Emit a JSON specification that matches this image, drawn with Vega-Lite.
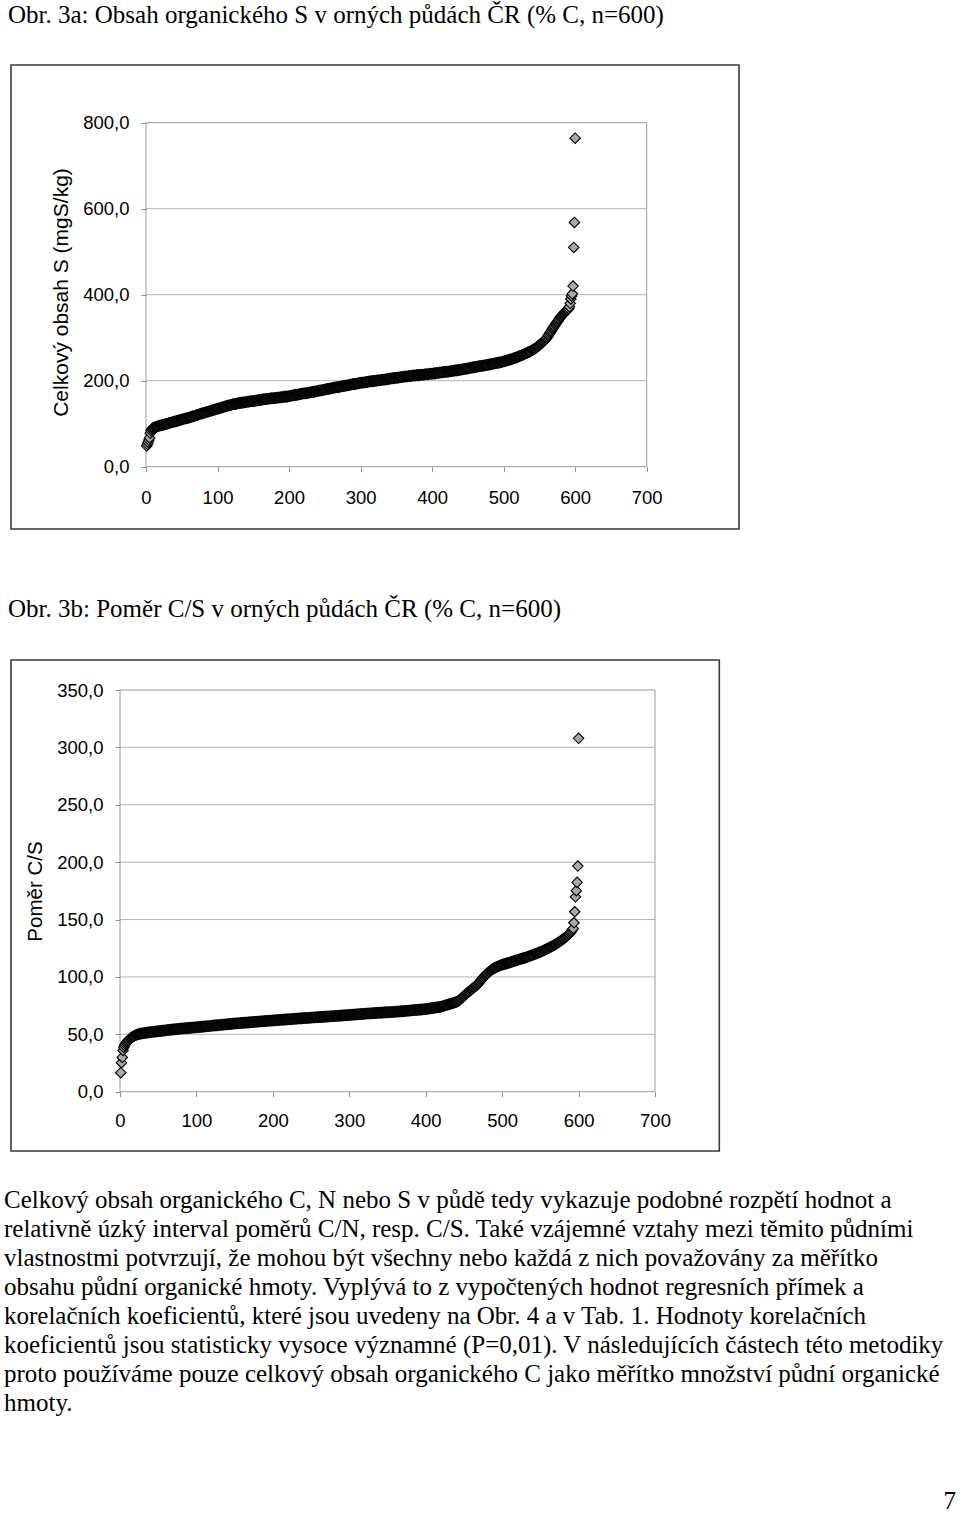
{
"$schema":"https://vega.github.io/schema/vega-lite/v6.json",
"width":960,"height":1513,"autosize":"none","padding":0,"background":"white",
"config":{"view":{"stroke":null}},
"datasets":{
"sulphur":[{"i":1,"v":48},{"i":2,"v":52},{"i":3,"v":57},{"i":4,"v":62},{"i":5,"v":67},{"i":6,"v":78},{"i":7,"v":84},{"i":8,"v":87},{"i":9,"v":89},{"i":10,"v":90},
{"i":11,"v":91},{"i":12,"v":91},{"i":13,"v":92},{"i":14,"v":92},{"i":15,"v":93},{"i":16,"v":94},{"i":17,"v":94},{"i":18,"v":95},{"i":19,"v":95},{"i":20,"v":96},
{"i":21,"v":96},{"i":22,"v":97},{"i":23,"v":97},{"i":24,"v":97},{"i":25,"v":98},{"i":26,"v":98},{"i":27,"v":99},{"i":28,"v":99},{"i":29,"v":100},{"i":30,"v":100},
{"i":31,"v":101},{"i":32,"v":101},{"i":33,"v":102},{"i":34,"v":102},{"i":35,"v":103},{"i":36,"v":103},{"i":37,"v":104},{"i":38,"v":104},{"i":39,"v":105},{"i":40,"v":105},
{"i":41,"v":105},{"i":42,"v":106},{"i":43,"v":106},{"i":44,"v":107},{"i":45,"v":107},{"i":46,"v":108},{"i":47,"v":108},{"i":48,"v":109},{"i":49,"v":109},{"i":50,"v":110},
{"i":51,"v":110},{"i":52,"v":111},{"i":53,"v":111},{"i":54,"v":112},{"i":55,"v":112},{"i":56,"v":112},{"i":57,"v":113},{"i":58,"v":113},{"i":59,"v":114},{"i":60,"v":114},
{"i":61,"v":115},{"i":62,"v":115},{"i":63,"v":116},{"i":64,"v":116},{"i":65,"v":117},{"i":66,"v":117},{"i":67,"v":118},{"i":68,"v":118},{"i":69,"v":119},{"i":70,"v":119},
{"i":71,"v":120},{"i":72,"v":120},{"i":73,"v":121},{"i":74,"v":122},{"i":75,"v":122},{"i":76,"v":123},{"i":77,"v":123},{"i":78,"v":124},{"i":79,"v":124},{"i":80,"v":125},
{"i":81,"v":125},{"i":82,"v":126},{"i":83,"v":126},{"i":84,"v":127},{"i":85,"v":127},{"i":86,"v":128},{"i":87,"v":128},{"i":88,"v":129},{"i":89,"v":129},{"i":90,"v":130},
{"i":91,"v":130},{"i":92,"v":131},{"i":93,"v":131},{"i":94,"v":132},{"i":95,"v":132},{"i":96,"v":133},{"i":97,"v":133},{"i":98,"v":134},{"i":99,"v":134},{"i":100,"v":135},
{"i":101,"v":135},{"i":102,"v":136},{"i":103,"v":136},{"i":104,"v":137},{"i":105,"v":137},{"i":106,"v":138},{"i":107,"v":138},{"i":108,"v":139},{"i":109,"v":139},{"i":110,"v":140},
{"i":111,"v":140},{"i":112,"v":141},{"i":113,"v":141},{"i":114,"v":142},{"i":115,"v":142},{"i":116,"v":143},{"i":117,"v":143},{"i":118,"v":143},{"i":119,"v":144},{"i":120,"v":144},
{"i":121,"v":145},{"i":122,"v":145},{"i":123,"v":145},{"i":124,"v":146},{"i":125,"v":146},{"i":126,"v":146},{"i":127,"v":147},{"i":128,"v":147},{"i":129,"v":148},{"i":130,"v":148},
{"i":131,"v":148},{"i":132,"v":148},{"i":133,"v":149},{"i":134,"v":149},{"i":135,"v":149},{"i":136,"v":149},{"i":137,"v":150},{"i":138,"v":150},{"i":139,"v":150},{"i":140,"v":150},
{"i":141,"v":151},{"i":142,"v":151},{"i":143,"v":151},{"i":144,"v":151},{"i":145,"v":152},{"i":146,"v":152},{"i":147,"v":152},{"i":148,"v":152},{"i":149,"v":153},{"i":150,"v":153},
{"i":151,"v":153},{"i":152,"v":153},{"i":153,"v":154},{"i":154,"v":154},{"i":155,"v":154},{"i":156,"v":154},{"i":157,"v":155},{"i":158,"v":155},{"i":159,"v":155},{"i":160,"v":155},
{"i":161,"v":156},{"i":162,"v":156},{"i":163,"v":156},{"i":164,"v":157},{"i":165,"v":157},{"i":166,"v":157},{"i":167,"v":157},{"i":168,"v":157},{"i":169,"v":158},{"i":170,"v":158},
{"i":171,"v":158},{"i":172,"v":158},{"i":173,"v":158},{"i":174,"v":159},{"i":175,"v":159},{"i":176,"v":159},{"i":177,"v":159},{"i":178,"v":159},{"i":179,"v":160},{"i":180,"v":160},
{"i":181,"v":160},{"i":182,"v":160},{"i":183,"v":160},{"i":184,"v":161},{"i":185,"v":161},{"i":186,"v":161},{"i":187,"v":161},{"i":188,"v":161},{"i":189,"v":162},{"i":190,"v":162},
{"i":191,"v":162},{"i":192,"v":162},{"i":193,"v":162},{"i":194,"v":163},{"i":195,"v":163},{"i":196,"v":163},{"i":197,"v":163},{"i":198,"v":163},{"i":199,"v":164},{"i":200,"v":164},
{"i":201,"v":164},{"i":202,"v":165},{"i":203,"v":165},{"i":204,"v":165},{"i":205,"v":166},{"i":206,"v":166},{"i":207,"v":166},{"i":208,"v":167},{"i":209,"v":167},{"i":210,"v":167},
{"i":211,"v":167},{"i":212,"v":168},{"i":213,"v":168},{"i":214,"v":168},{"i":215,"v":169},{"i":216,"v":169},{"i":217,"v":169},{"i":218,"v":170},{"i":219,"v":170},{"i":220,"v":170},
{"i":221,"v":170},{"i":222,"v":171},{"i":223,"v":171},{"i":224,"v":171},{"i":225,"v":171},{"i":226,"v":172},{"i":227,"v":172},{"i":228,"v":172},{"i":229,"v":173},{"i":230,"v":173},
{"i":231,"v":173},{"i":232,"v":173},{"i":233,"v":174},{"i":234,"v":174},{"i":235,"v":174},{"i":236,"v":175},{"i":237,"v":175},{"i":238,"v":175},{"i":239,"v":176},{"i":240,"v":176},
{"i":241,"v":176},{"i":242,"v":177},{"i":243,"v":177},{"i":244,"v":177},{"i":245,"v":178},{"i":246,"v":178},{"i":247,"v":178},{"i":248,"v":179},{"i":249,"v":179},{"i":250,"v":179},
{"i":251,"v":180},{"i":252,"v":180},{"i":253,"v":180},{"i":254,"v":181},{"i":255,"v":181},{"i":256,"v":181},{"i":257,"v":182},{"i":258,"v":182},{"i":259,"v":182},{"i":260,"v":183},
{"i":261,"v":183},{"i":262,"v":183},{"i":263,"v":184},{"i":264,"v":184},{"i":265,"v":184},{"i":266,"v":185},{"i":267,"v":185},{"i":268,"v":185},{"i":269,"v":185},{"i":270,"v":186},
{"i":271,"v":186},{"i":272,"v":186},{"i":273,"v":187},{"i":274,"v":187},{"i":275,"v":187},{"i":276,"v":188},{"i":277,"v":188},{"i":278,"v":188},{"i":279,"v":189},{"i":280,"v":189},
{"i":281,"v":189},{"i":282,"v":189},{"i":283,"v":190},{"i":284,"v":190},{"i":285,"v":190},{"i":286,"v":191},{"i":287,"v":191},{"i":288,"v":191},{"i":289,"v":192},{"i":290,"v":192},
{"i":291,"v":192},{"i":292,"v":192},{"i":293,"v":193},{"i":294,"v":193},{"i":295,"v":193},{"i":296,"v":194},{"i":297,"v":194},{"i":298,"v":194},{"i":299,"v":195},{"i":300,"v":195},
{"i":301,"v":195},{"i":302,"v":195},{"i":303,"v":196},{"i":304,"v":196},{"i":305,"v":196},{"i":306,"v":196},{"i":307,"v":197},{"i":308,"v":197},{"i":309,"v":197},{"i":310,"v":197},
{"i":311,"v":198},{"i":312,"v":198},{"i":313,"v":198},{"i":314,"v":198},{"i":315,"v":199},{"i":316,"v":199},{"i":317,"v":199},{"i":318,"v":199},{"i":319,"v":199},{"i":320,"v":200},
{"i":321,"v":200},{"i":322,"v":200},{"i":323,"v":200},{"i":324,"v":201},{"i":325,"v":201},{"i":326,"v":201},{"i":327,"v":201},{"i":328,"v":201},{"i":329,"v":202},{"i":330,"v":202},
{"i":331,"v":202},{"i":332,"v":202},{"i":333,"v":203},{"i":334,"v":203},{"i":335,"v":203},{"i":336,"v":203},{"i":337,"v":204},{"i":338,"v":204},{"i":339,"v":204},{"i":340,"v":204},
{"i":341,"v":205},{"i":342,"v":205},{"i":343,"v":205},{"i":344,"v":205},{"i":345,"v":206},{"i":346,"v":206},{"i":347,"v":206},{"i":348,"v":206},{"i":349,"v":207},{"i":350,"v":207},
{"i":351,"v":207},{"i":352,"v":207},{"i":353,"v":207},{"i":354,"v":208},{"i":355,"v":208},{"i":356,"v":208},{"i":357,"v":208},{"i":358,"v":209},{"i":359,"v":209},{"i":360,"v":209},
{"i":361,"v":209},{"i":362,"v":210},{"i":363,"v":210},{"i":364,"v":210},{"i":365,"v":210},{"i":366,"v":210},{"i":367,"v":211},{"i":368,"v":211},{"i":369,"v":211},{"i":370,"v":211},
{"i":371,"v":211},{"i":372,"v":212},{"i":373,"v":212},{"i":374,"v":212},{"i":375,"v":212},{"i":376,"v":212},{"i":377,"v":212},{"i":378,"v":213},{"i":379,"v":213},{"i":380,"v":213},
{"i":381,"v":213},{"i":382,"v":213},{"i":383,"v":213},{"i":384,"v":214},{"i":385,"v":214},{"i":386,"v":214},{"i":387,"v":214},{"i":388,"v":214},{"i":389,"v":214},{"i":390,"v":215},
{"i":391,"v":215},{"i":392,"v":215},{"i":393,"v":215},{"i":394,"v":215},{"i":395,"v":215},{"i":396,"v":216},{"i":397,"v":216},{"i":398,"v":216},{"i":399,"v":216},{"i":400,"v":216},
{"i":401,"v":216},{"i":402,"v":217},{"i":403,"v":217},{"i":404,"v":217},{"i":405,"v":217},{"i":406,"v":218},{"i":407,"v":218},{"i":408,"v":218},{"i":409,"v":218},{"i":410,"v":219},
{"i":411,"v":219},{"i":412,"v":219},{"i":413,"v":219},{"i":414,"v":219},{"i":415,"v":220},{"i":416,"v":220},{"i":417,"v":220},{"i":418,"v":220},{"i":419,"v":221},{"i":420,"v":221},
{"i":421,"v":221},{"i":422,"v":221},{"i":423,"v":221},{"i":424,"v":222},{"i":425,"v":222},{"i":426,"v":222},{"i":427,"v":222},{"i":428,"v":223},{"i":429,"v":223},{"i":430,"v":223},
{"i":431,"v":223},{"i":432,"v":224},{"i":433,"v":224},{"i":434,"v":224},{"i":435,"v":224},{"i":436,"v":225},{"i":437,"v":225},{"i":438,"v":225},{"i":439,"v":225},{"i":440,"v":226},
{"i":441,"v":226},{"i":442,"v":226},{"i":443,"v":226},{"i":444,"v":227},{"i":445,"v":227},{"i":446,"v":227},{"i":447,"v":228},{"i":448,"v":228},{"i":449,"v":228},{"i":450,"v":229},
{"i":451,"v":229},{"i":452,"v":229},{"i":453,"v":230},{"i":454,"v":230},{"i":455,"v":230},{"i":456,"v":231},{"i":457,"v":231},{"i":458,"v":231},{"i":459,"v":232},{"i":460,"v":232},
{"i":461,"v":232},{"i":462,"v":232},{"i":463,"v":233},{"i":464,"v":233},{"i":465,"v":233},{"i":466,"v":234},{"i":467,"v":234},{"i":468,"v":234},{"i":469,"v":234},{"i":470,"v":235},
{"i":471,"v":235},{"i":472,"v":235},{"i":473,"v":236},{"i":474,"v":236},{"i":475,"v":236},{"i":476,"v":236},{"i":477,"v":237},{"i":478,"v":237},{"i":479,"v":237},{"i":480,"v":238},
{"i":481,"v":238},{"i":482,"v":238},{"i":483,"v":239},{"i":484,"v":239},{"i":485,"v":239},{"i":486,"v":240},{"i":487,"v":240},{"i":488,"v":240},{"i":489,"v":241},{"i":490,"v":241},
{"i":491,"v":241},{"i":492,"v":242},{"i":493,"v":242},{"i":494,"v":242},{"i":495,"v":243},{"i":496,"v":243},{"i":497,"v":243},{"i":498,"v":244},{"i":499,"v":244},{"i":500,"v":245},
{"i":501,"v":245},{"i":502,"v":246},{"i":503,"v":246},{"i":504,"v":247},{"i":505,"v":247},{"i":506,"v":248},{"i":507,"v":248},{"i":508,"v":249},{"i":509,"v":249},{"i":510,"v":250},
{"i":511,"v":250},{"i":512,"v":251},{"i":513,"v":251},{"i":514,"v":252},{"i":515,"v":253},{"i":516,"v":253},{"i":517,"v":254},{"i":518,"v":254},{"i":519,"v":255},{"i":520,"v":256},
{"i":521,"v":256},{"i":522,"v":257},{"i":523,"v":258},{"i":524,"v":258},{"i":525,"v":259},{"i":526,"v":260},{"i":527,"v":260},{"i":528,"v":261},{"i":529,"v":262},{"i":530,"v":263},
{"i":531,"v":264},{"i":532,"v":264},{"i":533,"v":265},{"i":534,"v":266},{"i":535,"v":267},{"i":536,"v":267},{"i":537,"v":268},{"i":538,"v":269},{"i":539,"v":270},{"i":540,"v":271},
{"i":541,"v":272},{"i":542,"v":273},{"i":543,"v":274},{"i":544,"v":275},{"i":545,"v":276},{"i":546,"v":277},{"i":547,"v":279},{"i":548,"v":280},{"i":549,"v":281},{"i":550,"v":283},
{"i":551,"v":284},{"i":552,"v":286},{"i":553,"v":287},{"i":554,"v":289},{"i":555,"v":290},{"i":556,"v":292},{"i":557,"v":293},{"i":558,"v":295},{"i":559,"v":297},{"i":560,"v":299},
{"i":561,"v":301},{"i":562,"v":304},{"i":563,"v":306},{"i":564,"v":309},{"i":565,"v":312},{"i":566,"v":314},{"i":567,"v":317},{"i":568,"v":320},{"i":569,"v":322},{"i":570,"v":325},
{"i":571,"v":327},{"i":572,"v":330},{"i":573,"v":332},{"i":574,"v":335},{"i":575,"v":337},{"i":576,"v":339},{"i":577,"v":342},{"i":578,"v":344},{"i":579,"v":347},{"i":580,"v":349},
{"i":581,"v":351},{"i":582,"v":353},{"i":583,"v":355},{"i":584,"v":356},{"i":585,"v":358},{"i":586,"v":360},{"i":587,"v":361},{"i":588,"v":363},{"i":589,"v":364},{"i":590,"v":366},
{"i":591,"v":368},{"i":592,"v":372},{"i":593,"v":380},{"i":594,"v":390},{"i":595,"v":397},{"i":596,"v":402},{"i":597,"v":420},{"i":598,"v":510},{"i":599,"v":568},{"i":600,"v":764}],
"ratio":[{"i":1,"v":16.6},{"i":2,"v":25.3},{"i":3,"v":29.9},{"i":4,"v":36},{"i":5,"v":38.6},{"i":6,"v":40.3},{"i":7,"v":41.5},{"i":8,"v":42.5},{"i":9,"v":43.4},{"i":10,"v":44.2},
{"i":11,"v":44.9},{"i":12,"v":45.5},{"i":13,"v":46.1},{"i":14,"v":46.6},{"i":15,"v":47.1},{"i":16,"v":47.6},{"i":17,"v":48},{"i":18,"v":48.4},{"i":19,"v":48.8},{"i":20,"v":49.1},
{"i":21,"v":49.4},{"i":22,"v":49.7},{"i":23,"v":49.9},{"i":24,"v":50.1},{"i":25,"v":50.3},{"i":26,"v":50.5},{"i":27,"v":50.6},{"i":28,"v":50.7},{"i":29,"v":50.8},{"i":30,"v":50.9},
{"i":31,"v":51},{"i":32,"v":51.1},{"i":33,"v":51.2},{"i":34,"v":51.3},{"i":35,"v":51.4},{"i":36,"v":51.5},{"i":37,"v":51.6},{"i":38,"v":51.7},{"i":39,"v":51.8},{"i":40,"v":52},
{"i":41,"v":52},{"i":42,"v":52.1},{"i":43,"v":52.2},{"i":44,"v":52.2},{"i":45,"v":52.3},{"i":46,"v":52.4},{"i":47,"v":52.5},{"i":48,"v":52.5},{"i":49,"v":52.6},{"i":50,"v":52.7},
{"i":51,"v":52.8},{"i":52,"v":52.8},{"i":53,"v":52.9},{"i":54,"v":53},{"i":55,"v":53.1},{"i":56,"v":53.1},{"i":57,"v":53.2},{"i":58,"v":53.3},{"i":59,"v":53.4},{"i":60,"v":53.5},
{"i":61,"v":53.6},{"i":62,"v":53.7},{"i":63,"v":53.7},{"i":64,"v":53.8},{"i":65,"v":53.9},{"i":66,"v":54},{"i":67,"v":54},{"i":68,"v":54.1},{"i":69,"v":54.2},{"i":70,"v":54.3},
{"i":71,"v":54.3},{"i":72,"v":54.4},{"i":73,"v":54.5},{"i":74,"v":54.5},{"i":75,"v":54.6},{"i":76,"v":54.7},{"i":77,"v":54.8},{"i":78,"v":54.8},{"i":79,"v":54.9},{"i":80,"v":55},
{"i":81,"v":55},{"i":82,"v":55.1},{"i":83,"v":55.1},{"i":84,"v":55.2},{"i":85,"v":55.3},{"i":86,"v":55.3},{"i":87,"v":55.4},{"i":88,"v":55.4},{"i":89,"v":55.5},{"i":90,"v":55.6},
{"i":91,"v":55.6},{"i":92,"v":55.7},{"i":93,"v":55.7},{"i":94,"v":55.8},{"i":95,"v":55.9},{"i":96,"v":55.9},{"i":97,"v":56},{"i":98,"v":56},{"i":99,"v":56.1},{"i":100,"v":56.2},
{"i":101,"v":56.2},{"i":102,"v":56.3},{"i":103,"v":56.3},{"i":104,"v":56.4},{"i":105,"v":56.5},{"i":106,"v":56.5},{"i":107,"v":56.6},{"i":108,"v":56.7},{"i":109,"v":56.7},{"i":110,"v":56.8},
{"i":111,"v":56.8},{"i":112,"v":56.9},{"i":113,"v":57},{"i":114,"v":57},{"i":115,"v":57.1},{"i":116,"v":57.2},{"i":117,"v":57.2},{"i":118,"v":57.3},{"i":119,"v":57.4},{"i":120,"v":57.4},
{"i":121,"v":57.5},{"i":122,"v":57.6},{"i":123,"v":57.6},{"i":124,"v":57.7},{"i":125,"v":57.8},{"i":126,"v":57.8},{"i":127,"v":57.9},{"i":128,"v":57.9},{"i":129,"v":58},{"i":130,"v":58.1},
{"i":131,"v":58.1},{"i":132,"v":58.2},{"i":133,"v":58.3},{"i":134,"v":58.3},{"i":135,"v":58.4},{"i":136,"v":58.5},{"i":137,"v":58.5},{"i":138,"v":58.6},{"i":139,"v":58.7},{"i":140,"v":58.7},
{"i":141,"v":58.8},{"i":142,"v":58.9},{"i":143,"v":58.9},{"i":144,"v":59},{"i":145,"v":59.1},{"i":146,"v":59.1},{"i":147,"v":59.2},{"i":148,"v":59.3},{"i":149,"v":59.4},{"i":150,"v":59.4},
{"i":151,"v":59.5},{"i":152,"v":59.5},{"i":153,"v":59.6},{"i":154,"v":59.6},{"i":155,"v":59.7},{"i":156,"v":59.7},{"i":157,"v":59.8},{"i":158,"v":59.8},{"i":159,"v":59.9},{"i":160,"v":60},
{"i":161,"v":60},{"i":162,"v":60.1},{"i":163,"v":60.1},{"i":164,"v":60.2},{"i":165,"v":60.2},{"i":166,"v":60.3},{"i":167,"v":60.3},{"i":168,"v":60.4},{"i":169,"v":60.4},{"i":170,"v":60.5},
{"i":171,"v":60.5},{"i":172,"v":60.6},{"i":173,"v":60.7},{"i":174,"v":60.7},{"i":175,"v":60.8},{"i":176,"v":60.8},{"i":177,"v":60.9},{"i":178,"v":60.9},{"i":179,"v":61},{"i":180,"v":61},
{"i":181,"v":61.1},{"i":182,"v":61.1},{"i":183,"v":61.2},{"i":184,"v":61.2},{"i":185,"v":61.3},{"i":186,"v":61.3},{"i":187,"v":61.4},{"i":188,"v":61.4},{"i":189,"v":61.5},{"i":190,"v":61.6},
{"i":191,"v":61.6},{"i":192,"v":61.7},{"i":193,"v":61.7},{"i":194,"v":61.8},{"i":195,"v":61.8},{"i":196,"v":61.9},{"i":197,"v":61.9},{"i":198,"v":62},{"i":199,"v":62},{"i":200,"v":62.1},
{"i":201,"v":62.1},{"i":202,"v":62.2},{"i":203,"v":62.2},{"i":204,"v":62.3},{"i":205,"v":62.3},{"i":206,"v":62.4},{"i":207,"v":62.4},{"i":208,"v":62.5},{"i":209,"v":62.5},{"i":210,"v":62.6},
{"i":211,"v":62.6},{"i":212,"v":62.7},{"i":213,"v":62.7},{"i":214,"v":62.8},{"i":215,"v":62.8},{"i":216,"v":62.9},{"i":217,"v":62.9},{"i":218,"v":63},{"i":219,"v":63},{"i":220,"v":63.1},
{"i":221,"v":63.1},{"i":222,"v":63.2},{"i":223,"v":63.2},{"i":224,"v":63.3},{"i":225,"v":63.3},{"i":226,"v":63.4},{"i":227,"v":63.4},{"i":228,"v":63.5},{"i":229,"v":63.5},{"i":230,"v":63.6},
{"i":231,"v":63.6},{"i":232,"v":63.7},{"i":233,"v":63.7},{"i":234,"v":63.8},{"i":235,"v":63.8},{"i":236,"v":63.9},{"i":237,"v":63.9},{"i":238,"v":64},{"i":239,"v":64},{"i":240,"v":64.1},
{"i":241,"v":64.1},{"i":242,"v":64.2},{"i":243,"v":64.2},{"i":244,"v":64.3},{"i":245,"v":64.3},{"i":246,"v":64.3},{"i":247,"v":64.4},{"i":248,"v":64.4},{"i":249,"v":64.5},{"i":250,"v":64.5},
{"i":251,"v":64.6},{"i":252,"v":64.6},{"i":253,"v":64.7},{"i":254,"v":64.7},{"i":255,"v":64.8},{"i":256,"v":64.8},{"i":257,"v":64.8},{"i":258,"v":64.9},{"i":259,"v":64.9},{"i":260,"v":65},
{"i":261,"v":65},{"i":262,"v":65.1},{"i":263,"v":65.1},{"i":264,"v":65.2},{"i":265,"v":65.2},{"i":266,"v":65.3},{"i":267,"v":65.3},{"i":268,"v":65.3},{"i":269,"v":65.4},{"i":270,"v":65.4},
{"i":271,"v":65.5},{"i":272,"v":65.5},{"i":273,"v":65.6},{"i":274,"v":65.6},{"i":275,"v":65.7},{"i":276,"v":65.7},{"i":277,"v":65.7},{"i":278,"v":65.8},{"i":279,"v":65.8},{"i":280,"v":65.9},
{"i":281,"v":65.9},{"i":282,"v":66},{"i":283,"v":66},{"i":284,"v":66.1},{"i":285,"v":66.1},{"i":286,"v":66.2},{"i":287,"v":66.2},{"i":288,"v":66.3},{"i":289,"v":66.3},{"i":290,"v":66.4},
{"i":291,"v":66.4},{"i":292,"v":66.5},{"i":293,"v":66.5},{"i":294,"v":66.6},{"i":295,"v":66.6},{"i":296,"v":66.7},{"i":297,"v":66.7},{"i":298,"v":66.8},{"i":299,"v":66.8},{"i":300,"v":66.9},
{"i":301,"v":66.9},{"i":302,"v":67},{"i":303,"v":67},{"i":304,"v":67.1},{"i":305,"v":67.1},{"i":306,"v":67.2},{"i":307,"v":67.2},{"i":308,"v":67.3},{"i":309,"v":67.3},{"i":310,"v":67.4},
{"i":311,"v":67.4},{"i":312,"v":67.5},{"i":313,"v":67.5},{"i":314,"v":67.6},{"i":315,"v":67.6},{"i":316,"v":67.7},{"i":317,"v":67.7},{"i":318,"v":67.8},{"i":319,"v":67.8},{"i":320,"v":67.9},
{"i":321,"v":68},{"i":322,"v":68},{"i":323,"v":68.1},{"i":324,"v":68.1},{"i":325,"v":68.2},{"i":326,"v":68.2},{"i":327,"v":68.2},{"i":328,"v":68.3},{"i":329,"v":68.3},{"i":330,"v":68.4},
{"i":331,"v":68.4},{"i":332,"v":68.5},{"i":333,"v":68.5},{"i":334,"v":68.5},{"i":335,"v":68.6},{"i":336,"v":68.6},{"i":337,"v":68.7},{"i":338,"v":68.7},{"i":339,"v":68.8},{"i":340,"v":68.8},
{"i":341,"v":68.8},{"i":342,"v":68.9},{"i":343,"v":68.9},{"i":344,"v":69},{"i":345,"v":69},{"i":346,"v":69.1},{"i":347,"v":69.1},{"i":348,"v":69.1},{"i":349,"v":69.2},{"i":350,"v":69.2},
{"i":351,"v":69.3},{"i":352,"v":69.3},{"i":353,"v":69.3},{"i":354,"v":69.4},{"i":355,"v":69.4},{"i":356,"v":69.5},{"i":357,"v":69.5},{"i":358,"v":69.5},{"i":359,"v":69.6},{"i":360,"v":69.6},
{"i":361,"v":69.7},{"i":362,"v":69.7},{"i":363,"v":69.8},{"i":364,"v":69.8},{"i":365,"v":69.9},{"i":366,"v":69.9},{"i":367,"v":70},{"i":368,"v":70.1},{"i":369,"v":70.1},{"i":370,"v":70.2},
{"i":371,"v":70.2},{"i":372,"v":70.3},{"i":373,"v":70.3},{"i":374,"v":70.4},{"i":375,"v":70.5},{"i":376,"v":70.5},{"i":377,"v":70.6},{"i":378,"v":70.6},{"i":379,"v":70.7},{"i":380,"v":70.8},
{"i":381,"v":70.8},{"i":382,"v":70.9},{"i":383,"v":70.9},{"i":384,"v":71},{"i":385,"v":71.1},{"i":386,"v":71.1},{"i":387,"v":71.2},{"i":388,"v":71.2},{"i":389,"v":71.3},{"i":390,"v":71.4},
{"i":391,"v":71.4},{"i":392,"v":71.5},{"i":393,"v":71.5},{"i":394,"v":71.6},{"i":395,"v":71.7},{"i":396,"v":71.7},{"i":397,"v":71.8},{"i":398,"v":71.8},{"i":399,"v":71.9},{"i":400,"v":72},
{"i":401,"v":72.1},{"i":402,"v":72.2},{"i":403,"v":72.3},{"i":404,"v":72.4},{"i":405,"v":72.5},{"i":406,"v":72.6},{"i":407,"v":72.7},{"i":408,"v":72.8},{"i":409,"v":72.9},{"i":410,"v":73},
{"i":411,"v":73.1},{"i":412,"v":73.2},{"i":413,"v":73.3},{"i":414,"v":73.4},{"i":415,"v":73.5},{"i":416,"v":73.6},{"i":417,"v":73.7},{"i":418,"v":73.8},{"i":419,"v":73.9},{"i":420,"v":74.1},
{"i":421,"v":74.3},{"i":422,"v":74.5},{"i":423,"v":74.7},{"i":424,"v":74.9},{"i":425,"v":75.1},{"i":426,"v":75.3},{"i":427,"v":75.5},{"i":428,"v":75.7},{"i":429,"v":75.9},{"i":430,"v":76.1},
{"i":431,"v":76.3},{"i":432,"v":76.5},{"i":433,"v":76.7},{"i":434,"v":76.9},{"i":435,"v":77.1},{"i":436,"v":77.3},{"i":437,"v":77.5},{"i":438,"v":77.7},{"i":439,"v":77.9},{"i":440,"v":78.1},
{"i":441,"v":78.4},{"i":442,"v":78.8},{"i":443,"v":79.3},{"i":444,"v":79.8},{"i":445,"v":80.4},{"i":446,"v":81},{"i":447,"v":81.6},{"i":448,"v":82.2},{"i":449,"v":82.8},{"i":450,"v":83.4},
{"i":451,"v":84},{"i":452,"v":84.6},{"i":453,"v":85.2},{"i":454,"v":85.8},{"i":455,"v":86.4},{"i":456,"v":86.9},{"i":457,"v":87.5},{"i":458,"v":88},{"i":459,"v":88.6},{"i":460,"v":89.1},
{"i":461,"v":89.7},{"i":462,"v":90.2},{"i":463,"v":90.8},{"i":464,"v":91.3},{"i":465,"v":91.9},{"i":466,"v":92.4},{"i":467,"v":93},{"i":468,"v":93.7},{"i":469,"v":94.4},{"i":470,"v":95.2},
{"i":471,"v":96},{"i":472,"v":96.8},{"i":473,"v":97.6},{"i":474,"v":98.5},{"i":475,"v":99.3},{"i":476,"v":100.1},{"i":477,"v":100.8},{"i":478,"v":101.5},{"i":479,"v":102.2},{"i":480,"v":102.8},
{"i":481,"v":103.4},{"i":482,"v":104},{"i":483,"v":104.6},{"i":484,"v":105.1},{"i":485,"v":105.7},{"i":486,"v":106.1},{"i":487,"v":106.6},{"i":488,"v":107},{"i":489,"v":107.4},{"i":490,"v":107.8},
{"i":491,"v":108.1},{"i":492,"v":108.4},{"i":493,"v":108.7},{"i":494,"v":109},{"i":495,"v":109.3},{"i":496,"v":109.6},{"i":497,"v":109.9},{"i":498,"v":110.2},{"i":499,"v":110.4},{"i":500,"v":110.6},
{"i":501,"v":110.8},{"i":502,"v":111},{"i":503,"v":111.2},{"i":504,"v":111.4},{"i":505,"v":111.6},{"i":506,"v":111.8},{"i":507,"v":112},{"i":508,"v":112.2},{"i":509,"v":112.4},{"i":510,"v":112.6},
{"i":511,"v":112.8},{"i":512,"v":113.1},{"i":513,"v":113.3},{"i":514,"v":113.5},{"i":515,"v":113.8},{"i":516,"v":114},{"i":517,"v":114.2},{"i":518,"v":114.4},{"i":519,"v":114.6},{"i":520,"v":114.8},
{"i":521,"v":115},{"i":522,"v":115.2},{"i":523,"v":115.4},{"i":524,"v":115.6},{"i":525,"v":115.8},{"i":526,"v":116},{"i":527,"v":116.2},{"i":528,"v":116.4},{"i":529,"v":116.6},{"i":530,"v":116.8},
{"i":531,"v":117},{"i":532,"v":117.2},{"i":533,"v":117.5},{"i":534,"v":117.7},{"i":535,"v":118},{"i":536,"v":118.2},{"i":537,"v":118.5},{"i":538,"v":118.7},{"i":539,"v":119},{"i":540,"v":119.2},
{"i":541,"v":119.5},{"i":542,"v":119.7},{"i":543,"v":120},{"i":544,"v":120.2},{"i":545,"v":120.5},{"i":546,"v":120.7},{"i":547,"v":121},{"i":548,"v":121.2},{"i":549,"v":121.5},{"i":550,"v":121.7},
{"i":551,"v":122},{"i":552,"v":122.3},{"i":553,"v":122.6},{"i":554,"v":123},{"i":555,"v":123.3},{"i":556,"v":123.6},{"i":557,"v":124},{"i":558,"v":124.3},{"i":559,"v":124.6},{"i":560,"v":125},
{"i":561,"v":125.3},{"i":562,"v":125.6},{"i":563,"v":126},{"i":564,"v":126.3},{"i":565,"v":126.7},{"i":566,"v":127},{"i":567,"v":127.4},{"i":568,"v":127.7},{"i":569,"v":128.1},{"i":570,"v":128.5},
{"i":571,"v":128.9},{"i":572,"v":129.4},{"i":573,"v":129.8},{"i":574,"v":130.3},{"i":575,"v":130.7},{"i":576,"v":131.2},{"i":577,"v":131.7},{"i":578,"v":132.1},{"i":579,"v":132.6},{"i":580,"v":133},
{"i":581,"v":133.5},{"i":582,"v":134.1},{"i":583,"v":134.7},{"i":584,"v":135.3},{"i":585,"v":135.9},{"i":586,"v":136.5},{"i":587,"v":137.1},{"i":588,"v":137.6},{"i":589,"v":138.3},{"i":590,"v":139.2},
{"i":591,"v":140.2},{"i":592,"v":141.3},{"i":593,"v":142.3},{"i":594,"v":147.2},{"i":595,"v":156.8},{"i":596,"v":169.8},{"i":597,"v":175.1},{"i":598,"v":182.4},{"i":599,"v":196.6},{"i":600,"v":307.9}],
"gridA":[{"g":200},{"g":400},{"g":600}],
"gridB":[{"g":50},{"g":100},{"g":150},{"g":200},{"g":250},{"g":300}],
"paragraph":[
{"line":1,"text":"Celkový obsah organického C, N nebo S v půdě tedy vykazuje podobné rozpětí hodnot a"},
{"line":2,"text":"relativně úzký interval poměrů C/N, resp. C/S. Také vzájemné vztahy mezi těmito půdními"},
{"line":3,"text":"vlastnostmi potvrzují, že mohou být všechny nebo každá z nich považovány za měřítko"},
{"line":4,"text":"obsahu půdní organické hmoty. Vyplývá to z vypočtených hodnot regresních přímek a"},
{"line":5,"text":"korelačních koeficientů, které jsou uvedeny na Obr. 4 a v Tab. 1. Hodnoty korelačních"},
{"line":6,"text":"koeficientů jsou statisticky vysoce významné (P=0,01). V následujících částech této metodiky"},
{"line":7,"text":"proto používáme pouze celkový obsah organického C jako měřítko množství půdní organické"},
{"line":8,"text":"hmoty."}]
},
"resolve":{"scale":{"x":"independent","y":"independent"}},
"layer":[
{"layer":[
{"data":{"values":[{}]},"mark":{"type":"rect","fill":"white","fillOpacity":0,"stroke":"#3a3a3a","strokeWidth":1.6},
 "encoding":{"x":{"datum":-188.74,"type":"quantitative","scale":{"domain":[-204.11,1138.0],"nice":false,"zero":false}},"x2":{"datum":829.04},
 "y":{"datum":934.19,"type":"quantitative","scale":{"domain":[-2433.26,1085.35],"nice":false,"zero":false}},"y2":{"datum":-144.88}}},
{"data":{"name":"gridA"},"mark":{"type":"rule","color":"#b4b4b4","strokeWidth":1},
 "encoding":{"y":{"field":"g","type":"quantitative","scale":{"domain":[-2433.26,1085.35],"nice":false,"zero":false}},
 "x":{"datum":0,"type":"quantitative","scale":{"domain":[-204.11,1138.0],"nice":false,"zero":false}},"x2":{"datum":700}}},
{"data":{"values":[{}]},"mark":{"type":"rect","fill":"white","fillOpacity":0,"stroke":"#9a9a9a","strokeWidth":1},
 "encoding":{"x":{"datum":0,"type":"quantitative","scale":{"domain":[-204.11,1138.0],"nice":false,"zero":false}},"x2":{"datum":700},
 "y":{"datum":0,"type":"quantitative","scale":{"domain":[-2433.26,1085.35],"nice":false,"zero":false}},"y2":{"datum":800}}},
{"data":{"name":"sulphur"},"mark":{"type":"point","shape":"diamond","filled":true,"fill":"#a9a9a9","stroke":"#000000","strokeWidth":1.1,"size":110,"opacity":1},
 "encoding":{
 "x":{"field":"i","type":"quantitative","scale":{"domain":[-204.11,1138.0],"nice":false,"zero":false},
  "axis":{"orient":"bottom","offset":-1046.3,"zindex":2,"values":[0,100,200,300,400,500,600,700],"format":"d","domain":false,"grid":false,"ticks":true,"tickSize":5,"tickColor":"#909090","labels":true,"labelFont":"Liberation Sans","labelFontSize":18.5,"labelColor":"#000000","labelPadding":17,"labelFlush":false,"labelOverlap":false,"title":null}},
 "y":{"field":"v","type":"quantitative","scale":{"domain":[-2433.26,1085.35],"nice":false,"zero":false},
  "axis":{"orient":"left","offset":-146,"zindex":2,"values":[0,200,400,600,800],"labelExpr":"replace(format(datum.value,'.1f'),'.',',')","domain":false,"grid":false,"ticks":true,"tickSize":5,"tickColor":"#909090","labels":true,"labelFont":"Liberation Sans","labelFontSize":18.5,"labelColor":"#000000","labelPadding":12,"labelFlush":false,"labelOverlap":false,
  "title":"Celkový obsah S (mgS/kg)","titleFont":"Liberation Sans","titleFontSize":21,"titleFontWeight":"normal","titleColor":"#000000","titleX":-79,"titleY":292,"titleAngle":-90,"titleAlign":"center","titleBaseline":"alphabetic"}}}}
]},
{"layer":[
{"data":{"values":[{}]},"mark":{"type":"rect","fill":"white","fillOpacity":0,"stroke":"#3a3a3a","strokeWidth":1.6},
 "encoding":{"x":{"datum":-142.62,"type":"quantitative","scale":{"domain":[-157.01,1099.06],"nice":false,"zero":false}},"x2":{"datum":784.13},
 "y":{"datum":376.14,"type":"quantitative","scale":{"domain":[-367.08,951.2],"nice":false,"zero":false}},"y2":{"datum":-51.67}}},
{"data":{"name":"gridB"},"mark":{"type":"rule","color":"#b4b4b4","strokeWidth":1},
 "encoding":{"y":{"field":"g","type":"quantitative","scale":{"domain":[-367.08,951.2],"nice":false,"zero":false}},
 "x":{"datum":0,"type":"quantitative","scale":{"domain":[-157.01,1099.06],"nice":false,"zero":false}},"x2":{"datum":700}}},
{"data":{"values":[{}]},"mark":{"type":"rect","fill":"white","fillOpacity":0,"stroke":"#9a9a9a","strokeWidth":1},
 "encoding":{"x":{"datum":0,"type":"quantitative","scale":{"domain":[-157.01,1099.06],"nice":false,"zero":false}},"x2":{"datum":700},
 "y":{"datum":0,"type":"quantitative","scale":{"domain":[-367.08,951.2],"nice":false,"zero":false}},"y2":{"datum":350}}},
{"data":{"name":"ratio"},"mark":{"type":"point","shape":"diamond","filled":true,"fill":"#a9a9a9","stroke":"#000000","strokeWidth":1.1,"size":110,"opacity":1},
 "encoding":{
 "x":{"field":"i","type":"quantitative","scale":{"domain":[-157.01,1099.06],"nice":false,"zero":false},
  "axis":{"orient":"bottom","offset":-421.3,"zindex":2,"values":[0,100,200,300,400,500,600,700],"format":"d","domain":false,"grid":false,"ticks":true,"tickSize":5,"tickColor":"#909090","labels":true,"labelFont":"Liberation Sans","labelFontSize":18.5,"labelColor":"#000000","labelPadding":15,"labelFlush":false,"labelOverlap":false,"title":null}},
 "y":{"field":"v","type":"quantitative","scale":{"domain":[-367.08,951.2],"nice":false,"zero":false},
  "axis":{"orient":"left","offset":-120,"zindex":2,"values":[0,50,100,150,200,250,300,350],"labelExpr":"replace(format(datum.value,'.1f'),'.',',')","domain":false,"grid":false,"ticks":true,"tickSize":5,"tickColor":"#909090","labels":true,"labelFont":"Liberation Sans","labelFontSize":18.5,"labelColor":"#000000","labelPadding":12,"labelFlush":false,"labelOverlap":false,
  "title":"Poměr C/S","titleFont":"Liberation Sans","titleFontSize":20.5,"titleFontWeight":"normal","titleColor":"#000000","titleX":-79,"titleY":891,"titleAngle":-90,"titleAlign":"center","titleBaseline":"alphabetic"}}}}
]},
{"layer":[
{"data":{"name":"paragraph"},"mark":{"type":"text","align":"left","baseline":"alphabetic","font":"Liberation Serif","fontSize":25,"color":"#000000"},
 "encoding":{"x":{"datum":0,"type":"quantitative","scale":{"domain":[-4,956],"nice":false,"zero":false},"axis":null},
 "y":{"field":"line","type":"quantitative","scale":{"domain":[-40.495,11.498],"nice":false,"zero":false,"reverse":true},"axis":null},
 "text":{"field":"text"}}},
{"data":{"values":[{}]},"mark":{"type":"text","align":"left","baseline":"alphabetic","font":"Liberation Serif","fontSize":25,"color":"#000000"},
 "encoding":{"x":{"datum":4,"type":"quantitative","scale":{"domain":[-4,956],"nice":false,"zero":false},"axis":null},
 "y":{"datum":-39.704,"type":"quantitative","scale":{"domain":[-40.495,11.498],"nice":false,"zero":false,"reverse":true},"axis":null},
 "text":{"value":"Obr. 3a: Obsah organického S v orných půdách ČR (% C, n=600)"}}},
{"data":{"values":[{}]},"mark":{"type":"text","align":"left","baseline":"alphabetic","font":"Liberation Serif","fontSize":25,"color":"#000000"},
 "encoding":{"x":{"datum":4,"type":"quantitative","scale":{"domain":[-4,956],"nice":false,"zero":false},"axis":null},
 "y":{"datum":-19.292,"type":"quantitative","scale":{"domain":[-40.495,11.498],"nice":false,"zero":false,"reverse":true},"axis":null},
 "text":{"value":"Obr. 3b: Poměr C/S v orných půdách ČR (% C, n=600)"}}},
{"data":{"values":[{}]},"mark":{"type":"text","align":"right","baseline":"alphabetic","font":"Liberation Serif","fontSize":25,"color":"#000000"},
 "encoding":{"x":{"datum":952,"type":"quantitative","scale":{"domain":[-4,956],"nice":false,"zero":false},"axis":null},
 "y":{"datum":11.361,"type":"quantitative","scale":{"domain":[-40.495,11.498],"nice":false,"zero":false,"reverse":true},"axis":null},
 "text":{"value":"7"}}}
]}
]
}
